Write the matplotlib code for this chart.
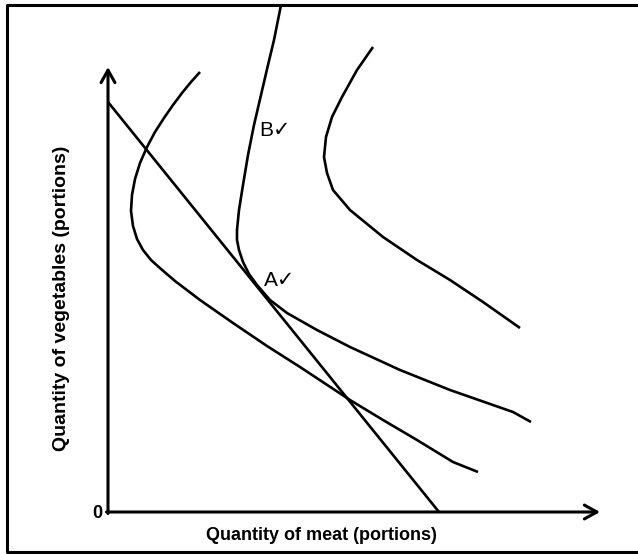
import numpy as np
import matplotlib
matplotlib.use('Agg')
import matplotlib.pyplot as plt
from matplotlib.lines import Line2D

# indifference curves and budget line (arbitrary portion units)
ic1_x = [9.2, 8.3, 7.4, 6.5, 5.6, 4.7, 3.9, 3.2, 2.7, 2.4, 2.3, 2.5, 2.9, 3.5,
         4.3, 5.3, 6.7, 9.2, 12.5, 15.9, 19.2, 24.2, 27.5, 30.9, 34.5, 37.0]
ic1_y = [44.0, 43.0, 41.9, 40.7, 39.4, 38.0, 36.5, 34.9, 33.3, 31.7, 30.1, 28.6,
         27.3, 26.2, 25.2, 24.3, 23.1, 21.2, 18.9, 16.6, 14.5, 11.2, 9.2, 7.2,
         5.0, 4.0]

ic2_x = [17.3, 16.6, 16.0, 15.3, 14.6, 14.0, 13.5, 13.1, 12.9, 12.9, 13.1, 13.5,
         14.1, 14.9, 16.2, 17.9, 20.9, 24.2, 29.2, 34.2, 40.5, 42.3]
ic2_y = [50.7, 47.2, 44.7, 41.7, 38.7, 35.7, 32.7, 30.2, 28.2, 27.2, 26.2, 25.0,
         23.8, 22.7, 21.2, 19.9, 18.2, 16.5, 14.2, 12.2, 10.0, 9.0]

ic3_x = [26.5, 24.9, 23.4, 22.4, 21.8, 21.6, 21.9, 22.5, 24.2, 27.5, 30.9, 34.2,
         37.5, 41.2]
ic3_y = [46.5, 44.2, 41.5, 39.5, 37.5, 35.5, 33.9, 32.2, 30.2, 27.5, 25.2, 23.2,
         21.0, 18.4]

budget_x = [0.0, 33.1]
budget_y = [41.0, 0.0]

x_max = 49.2
y_max = 44.5

point_labels = ['B\u2713', 'A\u2713']
point_pos = [(16.7, 38.2), (17.2, 23.2)]

fig = plt.figure(figsize=(6.38, 5.54), dpi=100)
ax = fig.add_axes([0, 0, 1, 1])
ax.set_xlim(-10.8, 53.0)
ax.set_ylim(-4.2, 51.2)
ax.axis('off')

lw = 1.9
for xs, ys in [(ic1_x, ic1_y), (ic2_x, ic2_y), (ic3_x, ic3_y), (budget_x, budget_y)]:
    ax.plot(xs, ys, color='black', lw=lw, clip_on=False, solid_capstyle='butt',
            solid_joinstyle='round')

# axes with open arrow heads
arrow = dict(arrowstyle='->,head_length=0.9,head_width=0.5', lw=2.2, color='black',
             shrinkA=0, shrinkB=0)
ax.annotate('', xy=(0, y_max), xytext=(0, -0.15), arrowprops=arrow)
ax.annotate('', xy=(x_max, 0), xytext=(-0.15, 0), arrowprops=arrow)

font = ['Liberation Sans', 'DejaVu Sans']
ax.text(-1.1, -0.1, '0', family=font, weight='bold', fontsize=13, ha='center', va='center')
ax.text(21.3, -2.4, 'Quantity of meat (portions)', family=font, weight='bold',
        fontsize=13, ha='center', va='center')
ax.text(-4.6, 21.4, 'Quantity of vegetables (portions)', family=font, weight='bold',
        fontsize=14, ha='center', va='center', rotation=90)
for lab, (px, py) in zip(point_labels, point_pos):
    ax.text(px, py, lab, family=font, fontsize=15, ha='center', va='center')

# frame around the picture (right edge is cut off)
fig.add_artist(Line2D([1.0, 7 / 638, 7 / 638, 1.0], [1 - 5 / 554, 1 - 5 / 554, 2 / 554, 2 / 554],
                      transform=fig.transFigure, color='black', lw=2.2))

fig.savefig('out.png', dpi=100)
